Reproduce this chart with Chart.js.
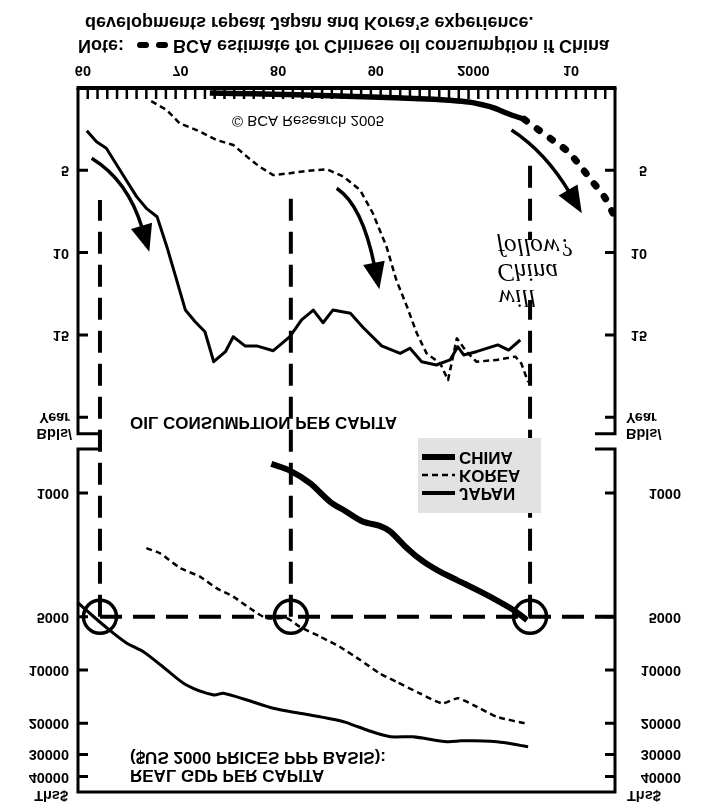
<!DOCTYPE html>
<html>
<head>
<meta charset="utf-8">
<script src="https://cdn.jsdelivr.net/npm/chart.js"></script>
<style>
  html, body { margin: 0; padding: 0; background: #fff; }
  /* the reference picture is printed upside down, so the whole chart is mirrored vertically */
  #wrap { width: 718px; height: 809px; transform: scaleY(-1); }
</style>
</head>
<body>
<div id="wrap"><canvas id="oil" width="718" height="809"></canvas></div>
<script>
// oil consumption per capita, bbls/year
const japanOilYears = [1960.9, 1961.9, 1962.9, 1964.5, 1966.0, 1967.0, 1968.1, 1969.1, 1970.1, 1971.0, 1972.0, 1973.0, 1973.9, 1975.1, 1975.9, 1977.1, 1978.3, 1980.0, 1981.7, 1982.9, 1984.1, 1985.1, 1986.1, 1987.9, 1989.2, 1991.1, 1993.0, 1994.0, 1995.2, 1996.7, 1998.1, 1998.9, 1999.5, 2000.8, 2003.0, 2004.1, 2005.3];
const japanOil = [2.59, 3.26, 3.66, 5.18, 6.6, 7.31, 7.82, 9.64, 11.66, 13.49, 14.2, 14.81, 16.63, 16.02, 15.11, 15.67, 15.67, 15.96, 15.11, 14.09, 13.49, 14.26, 13.49, 13.69, 14.55, 15.67, 16.12, 15.81, 16.63, 16.83, 16.52, 15.72, 16.22, 16.02, 15.61, 15.92, 15.31];
const koreaOilYears = [1967.5, 1969.1, 1970.4, 1972.5, 1974.2, 1975.9, 1977.3, 1978.6, 1980.0, 1981.7, 1983.4, 1985.5, 1987.2, 1988.9, 1990.2, 1991.6, 1992.6, 1993.7, 1994.7, 1995.7, 1997.1, 1997.9, 1998.8, 1999.8, 2000.8, 2002.9, 2004.8, 2005.4, 2006.1];
const koreaOil = [0.8, 1.34, 2.14, 2.65, 3.16, 3.46, 4.17, 4.78, 5.29, 5.18, 5.04, 4.94, 5.39, 6.2, 7.61, 9.64, 11.66, 13.29, 14.9, 16.12, 16.73, 17.74, 15.21, 16.02, 16.63, 16.52, 16.32, 16.73, 17.86];
const chinaOilYears = [1973.5, 1976, 1980, 1985, 1990, 1995, 1998, 2000, 2002, 2003, 2004, 2005.7];
const chinaOil = [0.3, 0.33, 0.38, 0.45, 0.55, 0.65, 0.75, 0.85, 1.1, 1.3, 1.55, 1.9];
// BCA estimate
const chinaEstYears = [2005.7, 2007.1, 2008.6, 2010.2, 2011.5, 2012.7, 2013.9, 2014.8, 2015.5];
const chinaEst = [1.9, 2.51, 3.16, 3.87, 4.78, 5.69, 6.6, 7.61, 8.3];

// real GDP per capita, $US 2000 prices PPP basis
const japanGdpYears = [1960.0, 1962.6, 1965.0, 1966.7, 1969.1, 1971.1, 1973.9, 1974.9, 1977.3, 1980.0, 1982.7, 1984.8, 1987.2, 1989.6, 1992.0, 1994.3, 1997.8, 1999.5, 2002.9, 2006.1];
const japanGdp = [4180, 5570, 7060, 7880, 10000, 12160, 13840, 13550, 14770, 16450, 17570, 18370, 19600, 21840, 23830, 23830, 25430, 25080, 25430, 27120];
const koreaGdpYears = [1967.0, 1968.4, 1970.5, 1972.5, 1974.2, 1975.9, 1977.6, 1979.3, 1981.4, 1982.7, 1984.8, 1986.8, 1988.9, 1990.9, 1992.6, 1995.0, 1997.3, 1998.9, 2000.5, 2002.9, 2006.1];
const koreaGdp = [2050, 2190, 2660, 2970, 3450, 3850, 4480, 5100, 5100, 5690, 6480, 7390, 8780, 10450, 11650, 13550, 15430, 14450, 15780, 18370, 20200];
const chinaGdpYears = [1979.8, 1981.7, 1983.8, 1985.8, 1987.2, 1989.2, 1990.9, 1992.0, 1993.7, 1995.4, 1997.4, 1999.5, 2002.2, 2004.6, 2006.0];
const chinaGdp = [685, 748, 882, 1120, 1247, 1452, 1535, 1654, 2054, 2443, 2843, 3238, 3853, 4582, 5224];

// when each country passed $5000 per head
const refYears = [1962.25, 1981.8, 2006.3];
const refOilTop = [6.8, 6.4, 4.2];
const refGdp = 5000;

// ticks
const xTickYears = [1960, 1970, 1980, 1990, 2000, 2010];
const xTickText = ['60', '70', '80', '90', '2000', '10'];
const oilTicks = [5, 10, 15, 20];
const gdpTicks = [1000, 5000, 10000, 20000, 30000, 40000];
const oilTop = 21, gdpBottom = 565;

// arrows: [start, control, tip] as [year, bbls]
const arrows = [
  [[1961.4, 4.27], [1965.1, 5.6], [1967.3, 9.95]],
  [[1986.5, 6.09], [1989.1, 7.1], [1990.86, 12.23]],
  [[2004.4, 2.55], [2007.9, 3.9], [2011.6, 7.61]]
];

const pt = (xs, ys) => xs.map((x, i) => ({x: x, y: ys[i]}));
const FONT = '"Liberation Sans", Arial, sans-serif';

const frame = {
  id: 'frame',
  beforeDatasetsDraw(chart) {
    const {ctx, chartArea: a, scales: {x, yOil, yGdp}} = chart;
    ctx.save();
    ctx.strokeStyle = '#000';
    ctx.lineWidth = 4;
    ctx.setLineDash([22, 11]);
    const yRef = yGdp.getPixelForValue(refGdp);
    refYears.forEach((yr, i) => {
      const px = x.getPixelForValue(yr);
      ctx.beginPath();
      ctx.moveTo(px, yRef);
      ctx.lineTo(px, yOil.getPixelForValue(refOilTop[i]));
      ctx.stroke();
    });
    ctx.beginPath();
    ctx.moveTo(x.getPixelForValue(refYears[0]), yRef);
    ctx.lineTo(a.right, yRef);
    ctx.stroke();
    ctx.setLineDash([]);
    // legend box and the white patch behind the handwriting
    ctx.fillStyle = '#e2e2e2';
    ctx.fillRect(418, 296, 123, 75);
    ctx.fillStyle = '#fff';
    ctx.fillRect(495, 509, 92, 60);
    ctx.restore();
  },
  afterDatasetsDraw(chart) {
    const {ctx, chartArea: a, scales: {x, yOil, yGdp}} = chart;
    ctx.save();
    ctx.strokeStyle = '#000';
    ctx.fillStyle = '#000';
    ctx.lineCap = 'butt';

    // frame
    const oT = yOil.getPixelForValue(oilTop), gB = yGdp.getPixelForValue(gdpBottom);
    ctx.lineWidth = 4;
    ctx.beginPath(); ctx.moveTo(a.left - 1.5, a.bottom); ctx.lineTo(a.right + 1.5, a.bottom); ctx.stroke();
    ctx.lineWidth = 3;
    ctx.beginPath();
    ctx.moveTo(a.left - 1.5, a.top); ctx.lineTo(a.right + 1.5, a.top);
    ctx.moveTo(a.left, a.bottom); ctx.lineTo(a.left, oT); ctx.lineTo(a.left + 20, oT);
    ctx.moveTo(a.left + 20, gB); ctx.lineTo(a.left, gB); ctx.lineTo(a.left, a.top);
    ctx.moveTo(a.right, a.bottom); ctx.lineTo(a.right, oT); ctx.lineTo(a.right - 20, oT);
    ctx.moveTo(a.right - 20, gB); ctx.lineTo(a.right, gB); ctx.lineTo(a.right, a.top);
    ctx.stroke();

    // year ticks
    ctx.lineWidth = 2.5;
    ctx.beginPath();
    for (let yr = 1961; yr < 2015; yr++) {
      const px = x.getPixelForValue(yr);
      ctx.moveTo(px, a.bottom); ctx.lineTo(px, a.bottom - 11);
    }
    ctx.stroke();
    // value ticks
    ctx.lineWidth = 3;
    ctx.beginPath();
    oilTicks.map(v => yOil.getPixelForValue(v)).concat(gdpTicks.map(v => yGdp.getPixelForValue(v))).forEach(py => {
      ctx.moveTo(a.left, py); ctx.lineTo(a.left + 10, py);
      ctx.moveTo(a.right, py); ctx.lineTo(a.right - 10, py);
    });
    ctx.stroke();

    // tick labels
    ctx.font = 'bold 14.5px ' + FONT;
    ctx.textBaseline = 'middle';
    ctx.textAlign = 'center';
    xTickYears.forEach((yr, i) => ctx.fillText(xTickText[i], x.getPixelForValue(yr + 0.5), 739));
    ctx.textAlign = 'right';
    oilTicks.slice(0, 3).forEach(v => {
      const py = yOil.getPixelForValue(v);
      ctx.fillText(String(v), 69, py);
      ctx.fillText(String(v), 647, py);
    });
    gdpTicks.forEach(v => {
      const py = yGdp.getPixelForValue(v);
      ctx.fillText(String(v), 69, py);
      ctx.fillText(String(v), 681, py);
    });
    const p20 = yOil.getPixelForValue(20);
    ctx.fillText('Year', 70, p20);
    ctx.fillText('Bbls/', 72, p20 - 16);
    ctx.fillText('Ths$', 68, 14);
    ctx.textAlign = 'left';
    ctx.fillText('Year', 626, p20);
    ctx.fillText('Bbls/', 626, p20 - 16);
    ctx.fillText('Ths$', 627, 14);

    // circles where GDP reached $5000
    const yRef = yGdp.getPixelForValue(refGdp);
    ctx.lineWidth = 3.5;
    refYears.forEach(yr => {
      ctx.beginPath();
      ctx.arc(x.getPixelForValue(yr), yRef, 16.5, 0, Math.PI * 2);
      ctx.stroke();
    });

    // arrows
    arrows.forEach(([s, c, t]) => {
      const P = q => [x.getPixelForValue(q[0]), yOil.getPixelForValue(q[1])];
      const p0 = P(s), pc = P(c), p2 = P(t);
      let dx = p2[0] - pc[0], dy = p2[1] - pc[1];
      const len = Math.hypot(dx, dy); dx /= len; dy /= len;
      const bx = p2[0] - dx * 27, by = p2[1] - dy * 27;
      ctx.lineWidth = 3.5;
      ctx.beginPath();
      ctx.moveTo(p0[0], p0[1]);
      ctx.quadraticCurveTo(pc[0], pc[1], bx + dx * 3, by + dy * 3);
      ctx.stroke();
      ctx.beginPath();
      ctx.moveTo(p2[0], p2[1]);
      ctx.lineTo(bx - dy * 11, by + dx * 11);
      ctx.lineTo(bx + dy * 11, by - dx * 11);
      ctx.closePath();
      ctx.fill();
    });

    // titles
    ctx.textAlign = 'left';
    ctx.font = 'bold 17px ' + FONT;
    ctx.fillText('OIL CONSUMPTION PER CAPITA', 130, 387);
    ctx.fillText('REAL GDP PER CAPITA', 130, 34);
    ctx.fillText('($US 2000 PRICES PPP BASIS):', 130, 52);
    ctx.textAlign = 'center';
    ctx.font = '15px ' + FONT;
    ctx.fillText('\u00a9 BCA Research 2005', 308, 689);

    // legend
    ctx.textAlign = 'left';
    ctx.font = 'bold 17px ' + FONT;
    [['CHINA', 352, 6, []], ['KOREA', 334, 2.5, [6, 4]], ['JAPAN', 316, 4, []]].forEach(([name, py, w, dash]) => {
      ctx.lineWidth = w;
      ctx.setLineDash(dash);
      ctx.beginPath(); ctx.moveTo(422, py); ctx.lineTo(455, py); ctx.stroke();
      ctx.setLineDash([]);
      ctx.fillText(name, 459, py);
    });

    // handwriting
    ctx.font = 'italic 25px "Liberation Serif", serif';
    ctx.fillText('will', 498, 512);
    ctx.fillText('China', 497, 538);
    ctx.fillText('follow?', 497, 563);

    // note under the chart
    ctx.font = 'bold 18px ' + FONT;
    ctx.fillText('Note:', 78, 764);
    ctx.lineWidth = 6;
    ctx.lineCap = 'round';
    ctx.beginPath();
    ctx.moveTo(140, 764); ctx.lineTo(146, 764);
    ctx.moveTo(159, 764); ctx.lineTo(165, 764);
    ctx.stroke();
    ctx.fillText('BCA estimate for Chinese oil consumption if China', 173, 764);
    ctx.fillText('developments repeat Japan and Korea\u2019s experience.', 85, 787);
    ctx.restore();
  }
};

new Chart(document.getElementById('oil'), {
  type: 'line',
  data: {
    datasets: [
      {label: 'Japan oil', yAxisID: 'yOil', data: pt(japanOilYears, japanOil), borderColor: '#000', borderWidth: 3},
      {label: 'Korea oil', yAxisID: 'yOil', data: pt(koreaOilYears, koreaOil), borderColor: '#000', borderWidth: 2.5, borderDash: [6, 4]},
      {label: 'China oil', yAxisID: 'yOil', data: pt(chinaOilYears, chinaOil), borderColor: '#000', borderWidth: 5.5, tension: 0.3},
      {label: 'China oil, BCA estimate', yAxisID: 'yOil', data: pt(chinaEstYears, chinaEst), borderColor: '#000', borderWidth: 7, borderDash: [3, 13], borderCapStyle: 'round', tension: 0.3},
      {label: 'Japan GDP', yAxisID: 'yGdp', data: pt(japanGdpYears, japanGdp), borderColor: '#000', borderWidth: 3, tension: 0.3},
      {label: 'Korea GDP', yAxisID: 'yGdp', data: pt(koreaGdpYears, koreaGdp), borderColor: '#000', borderWidth: 2.5, borderDash: [6, 4], tension: 0.2},
      {label: 'China GDP', yAxisID: 'yGdp', data: pt(chinaGdpYears, chinaGdp), borderColor: '#000', borderWidth: 6, tension: 0.3}
    ]
  },
  options: {
    responsive: false,
    animation: false,
    layout: {padding: {left: 78, right: 103, top: 17, bottom: 88}},
    elements: {point: {radius: 0}, line: {tension: 0, borderJoinStyle: 'round'}},
    plugins: {legend: {display: false}, tooltip: {enabled: false}},
    scales: {
      x: {type: 'linear', min: 1960, max: 2015, display: false},
      yOil: {type: 'linear', min: 0, max: 42.77, display: false},
      yGdp: {type: 'logarithmic', min: 5.151, max: 48895, display: false}
    }
  },
  plugins: [frame]
});
</script>
</body>
</html>
